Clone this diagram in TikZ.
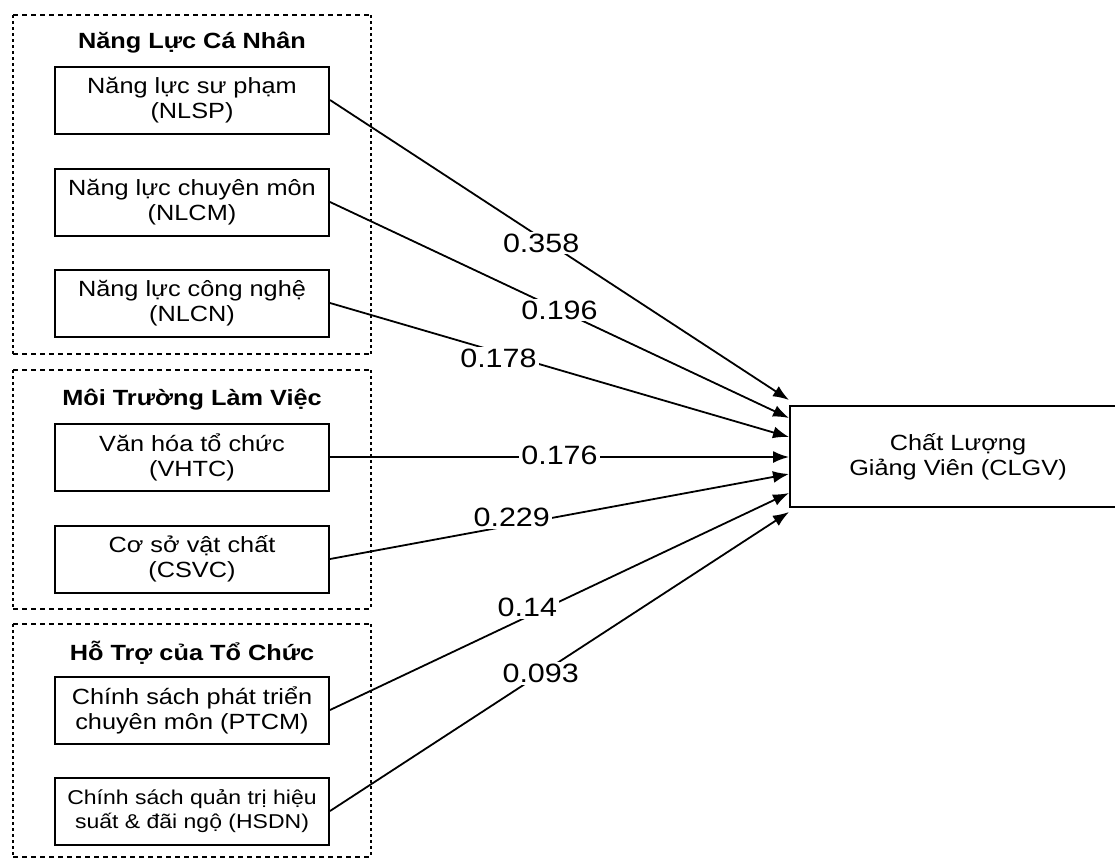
\documentclass[tikz,border=0pt]{standalone}
\usepackage{fontspec}
\setmainfont{Liberation Sans}[FakeStretch=1.15]
\usetikzlibrary{arrows.meta}
\begin{document}
\begin{tikzpicture}[x=1pt,y=-1pt,
  inbox/.style={draw, line width=2pt, minimum width=274pt, minimum height=67pt, inner sep=0pt, align=center, font=\fontsize{22}{25}\selectfont},
  grouptitle/.style={anchor=base, inner sep=0pt, font=\fontsize{22}{25}\selectfont\bfseries},
  hdash/.style={line width=2.2pt, dash pattern=on 5pt off 4pt},
  vdash/.style={line width=2.2pt, dash pattern=on 3pt off 3pt},
  conn/.style={line width=1.8pt, -{Latex[length=16pt,width=12pt]}},
  coef/.style={fill=white, inner sep=2pt, font=\fontsize{26.5}{28}\selectfont}]
\useasboundingbox (0,0) rectangle (1115,860);

% group frames
\draw[hdash] (13,15) -- (371,15);
\draw[hdash] (13,354) -- (371,354);
\draw[vdash] (13,15) -- (13,354);
\draw[vdash] (371,15) -- (371,354);

\draw[hdash] (13,370) -- (371,370);
\draw[hdash] (13,609) -- (371,609);
\draw[vdash] (13,370) -- (13,609);
\draw[vdash] (371,370) -- (371,609);

\draw[hdash] (13,624) -- (371,624);
\draw[hdash] (13,857) -- (371,857);
\draw[vdash] (13,624) -- (13,857);
\draw[vdash] (371,624) -- (371,857);

% titles
\node[grouptitle] (t1) at (192,48) {Năng Lực Cá Nhân};
\node[grouptitle] (t2) at (192,405) {Môi Trường Làm Việc};
\node[grouptitle] (t3) at (192,660) {Hỗ Trợ của Tổ Chức};

% source boxes
\node[inbox] (nlsp) at (192,100) {Năng lực sư phạm\\(NLSP)};
\node[inbox] (nlcm) at (192,202) {Năng lực chuyên môn\\(NLCM)};
\node[inbox] (nlcn) at (192,303) {Năng lực công nghệ\\(NLCN)};
\node[inbox] (vhtc) at (192,457) {Văn hóa tổ chức\\(VHTC)};
\node[inbox] (csvc) at (192,559) {Cơ sở vật chất\\(CSVC)};
\node[inbox] (ptcm) at (192,710) {Chính sách phát triển\\chuyên môn (PTCM)};
\node[inbox, font=\fontsize{20}{24}\selectfont] (hsdn) at (192,811) {Chính sách quản trị hiệu\\suất \& đãi ngộ (HSDN)};

% target
\node[draw, line width=2pt, minimum width=336pt, minimum height=101pt, inner sep=0pt, align=center, font=\fontsize{22}{25}\selectfont] (clgv) at (958,456.5) {Chất Lượng\\Giảng Viên (CLGV)};

\coordinate (e1) at (789,400);
\coordinate (e2) at (789,418);
\coordinate (e3) at (789,437);
\coordinate (e4) at (789,457);
\coordinate (e5) at (789,474);
\coordinate (e6) at (789,493);
\coordinate (e7) at (789,512);

\draw[conn] (nlsp.east) -- node[coef, pos=0.46, yshift=-5pt] (c1) {0.358} (e1);
\draw[conn] (nlcm.east) -- node[coef, pos=0.50] (c2) {0.196} (e2);
\draw[conn] (nlcn.east) -- node[coef, pos=0.367, yshift=-6pt] (c3) {0.178} (e3);
\draw[conn] (vhtc.east) -- node[coef, pos=0.50, yshift=2pt] (c4) {0.176} (e4);
\draw[conn] (csvc.east) -- node[coef, pos=0.396, yshift=8pt] (c5) {0.229} (e5);
\draw[conn] (ptcm.east) -- node[coef, pos=0.43, yshift=9pt] (c6) {0.14} (e6);
\draw[conn] (hsdn.east) -- node[coef, pos=0.459] (c7) {0.093} (e7);
\end{tikzpicture}
\end{document}
